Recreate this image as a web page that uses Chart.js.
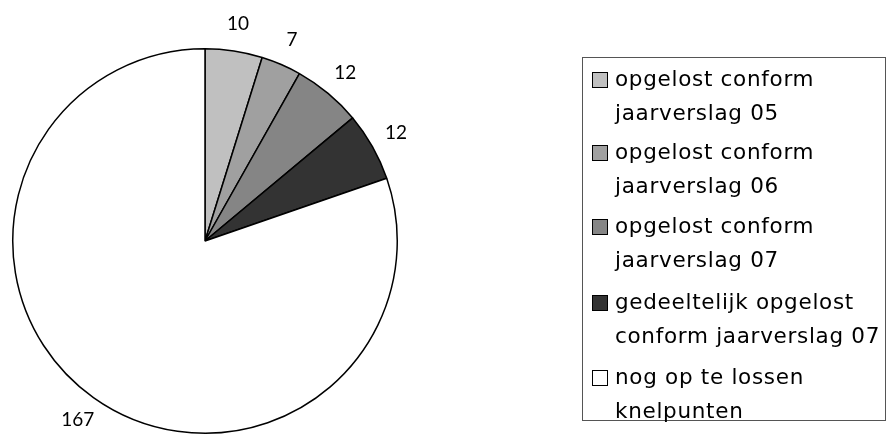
<!DOCTYPE html>
<html>
<head>
<meta charset="utf-8">
<script src="https://cdn.jsdelivr.net/npm/chart.js@4"></script>
<style>
  html, body { margin: 0; padding: 0; background: #fff; }
  canvas { display: block; }
</style>
</head>
<body>
<canvas id="pie" width="892" height="436"></canvas>
<script>
const categories = [
    ['opgelost conform', 'jaarverslag 05'],
    ['opgelost conform', 'jaarverslag 06'],
    ['opgelost conform', 'jaarverslag 07'],
    ['gedeeltelijk opgelost', 'conform jaarverslag 07'],
    ['nog op te lossen', 'knelpunten']
];
const values = [10, 7, 12, 12, 167];
const sliceColors = ['#c0c0c0', '#a0a0a0', '#858585', '#333333', '#ffffff'];

// value labels just outside each slice
const outerLabels = {
    id: 'outerLabels',
    afterDatasetsDraw(chart) {
        const ctx = chart.ctx;
        const meta = chart.getDatasetMeta(0);
        ctx.save();
        ctx.font = '19px Lato';
        ctx.fillStyle = '#000';
        ctx.textAlign = 'center';
        ctx.textBaseline = 'middle';
        meta.data.forEach((arc, i) => {
            const mid = (arc.startAngle + arc.endAngle) / 2;
            const r = arc.outerRadius + 27;
            ctx.fillText(String(values[i]), arc.x + Math.cos(mid) * r, arc.y + Math.sin(mid) * r);
        });
        ctx.restore();
    }
};

// boxed legend on the right, two lines per entry
const boxLegend = {
    id: 'boxLegend',
    afterDraw(chart) {
        const ctx = chart.ctx;
        const left = 582, top = 57, w = 303, h = 363;
        ctx.save();
        ctx.strokeStyle = '#555';
        ctx.lineWidth = 1;
        ctx.strokeRect(left + 0.5, top + 0.5, w, h);
        ctx.font = '21.5px "DejaVu Sans"';
        ctx.letterSpacing = '0.7px';
        ctx.textBaseline = 'middle';
        ctx.fillStyle = '#000';
        const rowStart = [80, 153, 227, 303, 378];
        categories.forEach((lines, i) => {
            const y = rowStart[i];
            ctx.fillStyle = sliceColors[i];
            ctx.fillRect(592, y - 8, 16, 16);
            ctx.strokeStyle = '#000';
            ctx.lineWidth = 1;
            ctx.strokeRect(592.5, y - 7.5, 15, 15);
            ctx.fillStyle = '#000';
            lines.forEach((t, j) => ctx.fillText(t, 615, y + j * 34));
        });
        ctx.restore();
    }
};

new Chart(document.getElementById('pie').getContext('2d'), {
    type: 'pie',
    data: {
        labels: categories,
        datasets: [{
            data: values,
            backgroundColor: sliceColors,
            borderColor: '#000',
            borderWidth: 1.5
        }]
    },
    options: {
        responsive: false,
        animation: false,
        layout: { padding: { left: 12, top: 47, right: 494, bottom: 1 } },
        plugins: {
            legend: { display: false },
            tooltip: { enabled: false }
        }
    },
    plugins: [outerLabels, boxLegend]
});
</script>
</body>
</html>
